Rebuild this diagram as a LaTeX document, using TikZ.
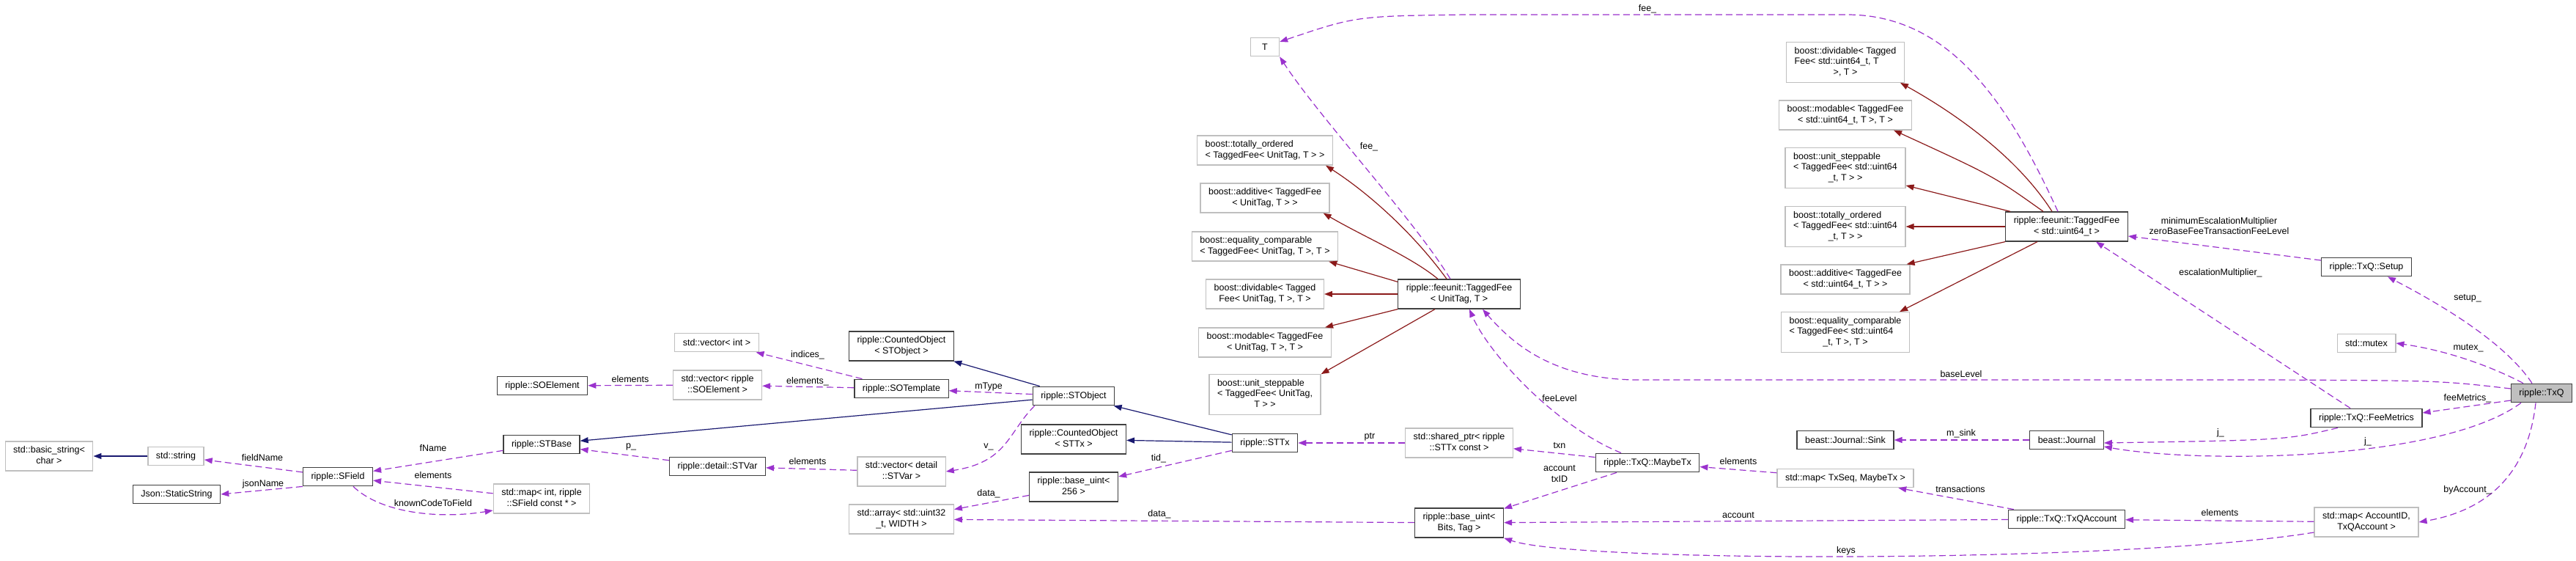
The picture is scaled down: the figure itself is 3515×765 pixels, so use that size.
\documentclass[tikz,border=0pt]{standalone}
\usepackage{fontspec}
\setmainfont{Liberation Sans}
\usepackage{tikz}
\usetikzlibrary{arrows.meta,positioning}

\definecolor{edgepurple}{HTML}{9A32CD}
\definecolor{basenavy}{HTML}{191970}
\definecolor{tplred}{HTML}{8B1A1A}
\definecolor{extgray}{HTML}{BFBFBF}
\definecolor{docgray}{HTML}{404040}

\newcommand{\dxfont}{\fontsize{12.5}{14.5}\selectfont}
\newcommand{\lns}[2]{\begin{tabular}{@{}l@{}}#1\\\multicolumn{1}{@{}c@{}}{#2}\end{tabular}}

\tikzset{
  doc/.style={draw=docgray, line width=1.3pt, fill=white, font=\dxfont, inner xsep=11pt, inner ysep=5.5pt, minimum width=39pt, minimum height=25.5pt},
  ext/.style={doc, draw=extgray},
  lbl/.style={font=\dxfont, inner sep=1pt, align=center},
  member/.style={draw=edgepurple, line width=1.2pt, dash pattern=on 9pt off 5pt, -{Triangle[length=11pt,width=8pt]}},
  pubbase/.style={draw=basenavy, line width=1.2pt, -{Triangle[length=11pt,width=8pt]}},
  tplbase/.style={draw=tplred, line width=1.2pt, -{Triangle[length=11pt,width=8pt]}}
}

\begin{document}
\begin{tikzpicture}[x=1pt, y=-1pt]
  \useasboundingbox (0,0) rectangle (3515,765);

  \node[ext] (bstr) at (67,622) {\lns{std::basic\_string<}{char >}};
  \node[ext] (str) at (240,622) {std::string};
  \node[doc] (jstr) at (241,674) {Json::StaticString};
  \node[doc] (sfield) at (461,650) {ripple::SField};
  \node[doc] (soelem) at (740,526) {ripple::SOElement};
  \node[doc] (stbase) at (739,606) {ripple::STBase};
  \node[ext] (mapfield) at (739,680) {\lns{std::map< int, ripple}{::SField const * >}};
  \node[ext] (vecint) at (978,467) {std::vector< int >};
  \node[ext] (vecsoe) at (979,525) {\lns{std::vector< ripple}{::SOElement >}};
  \node[doc] (stvar) at (979,636) {ripple::detail::STVar};
  \node[doc] (cntobj) at (1230,472) {\lns{ripple::CountedObject}{< STObject >}};
  \node[doc] (sotmpl) at (1230,530) {ripple::SOTemplate};
  \node[ext] (vecvar) at (1230,643) {\lns{std::vector< detail}{::STVar >}};
  \node[ext] (arr) at (1230,708) {\lns{std::array< std::uint32}{\_t, WIDTH >}};
  \node[doc] (stobj) at (1465,540) {ripple::STObject};
  \node[doc] (cnttx) at (1465,599) {\lns{ripple::CountedObject}{< STTx >}};
  \node[doc] (buintk) at (1465,664) {\lns{ripple::base\_uint<}{256 >}};
  \node[ext] (tparam) at (1726,64) {T};
  \node[ext] (btot) at (1726,205) {\lns{boost::totally\_ordered}{< TaggedFee< UnitTag, T > >}};
  \node[ext] (badd) at (1726,270) {\lns{boost::additive< TaggedFee}{< UnitTag, T > >}};
  \node[ext] (beq) at (1726,336) {\lns{boost::equality\_comparable}{< TaggedFee< UnitTag, T >, T >}};
  \node[ext] (bdiv) at (1726,401) {\lns{boost::dividable< Tagged}{Fee< UnitTag, T >, T >}};
  \node[ext] (bmod) at (1726,467) {\lns{boost::modable< TaggedFee}{< UnitTag, T >, T >}};
  \node[ext] (bstep) at (1726,538) {\lns{boost::unit\_steppable\\< TaggedFee< UnitTag,}{T > >}};
  \node[doc] (sttx) at (1726,604) {ripple::STTx};
  \node[doc] (tfee) at (1991,401) {\lns{ripple::feeunit::TaggedFee}{< UnitTag, T >}};
  \node[ext] (sptr) at (1991,604) {\lns{std::shared\_ptr< ripple}{::STTx const >}};
  \node[doc] (buint) at (1991,713) {\lns{ripple::base\_uint<}{Bits, Tag >}};
  \node[doc] (maybetx) at (2248,631) {ripple::TxQ::MaybeTx};
  \node[ext] (udiv) at (2518,85) {\lns{boost::dividable< Tagged\\Fee< std::uint64\_t, T}{>, T >}};
  \node[ext] (umod) at (2518,157) {\lns{boost::modable< TaggedFee}{< std::uint64\_t, T >, T >}};
  \node[ext] (ustep) at (2518,229) {\lns{boost::unit\_steppable\\< TaggedFee< std::uint64}{\_t, T > >}};
  \node[ext] (utot) at (2518,309) {\lns{boost::totally\_ordered\\< TaggedFee< std::uint64}{\_t, T > >}};
  \node[ext] (uadd) at (2518,381) {\lns{boost::additive< TaggedFee}{< std::uint64\_t, T > >}};
  \node[ext] (ueq) at (2518,453) {\lns{boost::equality\_comparable\\< TaggedFee< std::uint64}{\_t, T >, T >}};
  \node[doc] (sink) at (2518,600) {beast::Journal::Sink};
  \node[ext] (mapseq) at (2518,652) {std::map< TxSeq, MaybeTx >};
  \node[doc] (tfeeu) at (2820,309) {\lns{ripple::feeunit::TaggedFee}{< std::uint64\_t >}};
  \node[doc] (journal) at (2820,600) {beast::Journal};
  \node[doc] (txqacc) at (2820,708) {ripple::TxQ::TxQAccount};
  \node[doc] (setup) at (3229,364) {ripple::TxQ::Setup};
  \node[ext] (mutex) at (3229,468) {std::mutex};
  \node[doc] (feemet) at (3229,570) {ripple::TxQ::FeeMetrics};
  \node[ext] (mapacc) at (3229,712) {\lns{std::map< AccountID,}{TxQAccount >}};
  \node[doc, fill=extgray] (txq) at (3468,536) {ripple::TxQ};

  \draw[pubbase] (str) -- (bstr);
  \draw[pubbase] (stobj) -- (stbase);
  \draw[pubbase] (stobj) -- (cntobj);
  \draw[pubbase] (sttx) -- (stobj);
  \draw[pubbase] (sttx) -- (cnttx);

  \draw[tplbase] ([xshift=-17pt]tfee.north) .. controls (1930,320) and (1870,265) .. ([xshift=-10pt]btot.south east);
  \draw[tplbase] ([xshift=-29pt]tfee.north) .. controls (1925,350) and (1865,325) .. ([xshift=-9pt]badd.south east);
  \draw[tplbase] ([yshift=-4pt]tfee.north west) -- ([xshift=-13pt]beq.south east);
  \draw[tplbase] (tfee.west) -- (bdiv.east);
  \draw[tplbase] (tfee.south west) -- ([xshift=-9pt]bmod.north east);
  \draw[tplbase] ([xshift=-33pt]tfee.south) -- (bstep.north east);
  \draw[tplbase] ([xshift=-20pt]tfeeu.north) .. controls (2750,210) and (2660,150) .. ([xshift=-6pt]udiv.south east);
  \draw[tplbase] ([xshift=-32pt]tfeeu.north) .. controls (2720,240) .. ([xshift=-25pt]umod.south east);
  \draw[tplbase] ([xshift=7pt]tfeeu.north west) -- ([yshift=4pt]ustep.south east);
  \draw[tplbase] (tfeeu.west) -- (utot.east);
  \draw[tplbase] (tfeeu.south west) -- ([xshift=-5pt]uadd.north east);
  \draw[tplbase] ([xshift=-40pt]tfeeu.south) -- ([xshift=-14pt]ueq.north east);

  \draw[member] (sfield) -- (str);
  \draw[member] (sfield.south west) -- (jstr.east);
  \draw[member] (stbase) -- (sfield);
  \draw[member] (mapfield) -- (sfield);
  \draw[member] ([xshift=21pt]sfield.south) .. controls (520,700) and (600,708) .. ([yshift=-16pt]mapfield.west);
  \draw[member] (vecsoe) -- (soelem);
  \draw[member] (sotmpl) -- (vecsoe);
  \draw[member] (sotmpl) -- (vecint);
  \draw[member] (vecvar) -- (stvar);
  \draw[member] (stvar) -- (stbase);
  \draw[member] (stobj) -- (sotmpl);
  \draw[member] ([xshift=3pt]stobj.south west) .. controls (1375,590) and (1375,630) .. (vecvar.east);
  \draw[member] (sttx) -- (buintk);
  \draw[member] (buintk) -- (arr);
  \draw[member] (buint) -- (arr);
  \draw[member] (sptr) -- (sttx);
  \draw[member] (maybetx) -- (sptr);
  \draw[member] (maybetx) -- (buint);
  \draw[member] (mapseq) -- (maybetx);
  \draw[member] (txqacc) -- (mapseq);
  \draw[member] (txqacc) -- (buint);
  \draw[member] (journal) -- (sink);
  \draw[member] (mapacc) -- (txqacc);
  \draw[member] ([yshift=-14pt]mapacc.west) .. controls (2900,768) and (2150,768) .. (buint.south east);
  \draw[member] ([xshift=-8pt]txq.south) .. controls (3450,640) and (3400,695) .. (mapacc.east);
  \draw[member] ([xshift=-13pt]txq.north) .. controls (3420,470) and (3340,420) .. ([xshift=29pt]setup.south);
  \draw[member] ([xshift=-25pt]txq.north) .. controls (3400,500) and (3340,478) .. (mutex.east);
  \draw[member] ([yshift=-10pt]txq.west) -- ([yshift=7pt]feemet.east);
  \draw[member] ([yshift=6pt]txq.west) .. controls (3330,519) .. (3100,518) -- (2230,518) .. controls (2120,516) and (2065,470) .. ([xshift=32pt]tfee.south);
  \draw[member] ([xshift=-36pt]maybetx.north) .. controls (2120,580) and (2030,480) .. ([xshift=14pt]tfee.south);
  \draw[member] ([xshift=-12pt]tfee.north) .. controls (1930,300) and (1800,160) .. (tparam.south east);
  \draw[member] ([xshift=-12pt]tfeeu.north) .. controls (2740,140) and (2660,20) .. (2520,20) -- (2000,20) .. controls (1850,22) .. ([yshift=7pt]tparam.east);
  \draw[member] ([yshift=9pt]setup.west) -- ([yshift=-13pt]tfeeu.east);
  \draw[member] ([xshift=-22pt]feemet.north) -- ([xshift=40pt]tfeeu.south);
  \draw[member] ([xshift=-39pt]feemet.south) .. controls (3120,600) .. ([yshift=-4pt]journal.east);
  \draw[member] ([xshift=-28pt]txq.south) .. controls (3330,630) and (3000,632) .. ([yshift=-9pt]journal.east);

  \node[lbl] (lfieldname) at (358,624) {fieldName};
  \node[lbl] (ljsonname) at (359,660) {jsonName};
  \node[lbl] (lfname) at (591,611) {fName};
  \node[lbl] (lfieldelems) at (591,648) {elements};
  \node[lbl] (lknown) at (591,686) {knownCodeToField};
  \node[lbl] (lsoelems) at (860,517) {elements};
  \node[lbl] (lindices) at (1102,484) {indices\_};
  \node[lbl] (ltmplelems) at (1102,520) {elements\_};
  \node[lbl] (lp) at (861,609) {p\_};
  \node[lbl] (lvarelems) at (1102,629) {elements};
  \node[lbl] (lmtype) at (1349,527) {mType};
  \node[lbl] (lv) at (1349,609) {v\_};
  \node[lbl] (ldatak) at (1349,673) {data\_};
  \node[lbl] (ltid) at (1581,625) {tid\_};
  \node[lbl] (ldata) at (1582,701) {data\_};
  \node[lbl] (lptr) at (1869,596) {ptr};
  \node[lbl] (lfee) at (1868,200) {fee\_};
  \node[lbl] (lfeeu) at (2248,12) {fee\_};
  \node[lbl] (lfeelevel) at (2128,543) {feeLevel};
  \node[lbl] (ltxn) at (2128,608) {txn};
  \node[lbl] (lacctxid) at (2128,646) {account\\txID};
  \node[lbl] (lseqelems) at (2372,629) {elements};
  \node[lbl] (laccount) at (2372,703) {account};
  \node[lbl] (lkeys) at (2519,751) {keys};
  \node[lbl] (lbaselevel) at (2676,510) {baseLevel};
  \node[lbl] (lmsink) at (2676,591) {m\_sink};
  \node[lbl] (ltransactions) at (2675,667) {transactions};
  \node[lbl] (lminesc) at (3028,308) {minimumEscalationMultiplier\\zeroBaseFeeTransactionFeeLevel};
  \node[lbl] (lesc) at (3030,372) {escalationMultiplier\_};
  \node[lbl] (ljmet) at (3030,590) {j\_};
  \node[lbl] (laccelems) at (3029,699) {elements};
  \node[lbl] (lsetup) at (3367,407) {setup\_};
  \node[lbl] (lmutex) at (3368,475) {mutex\_};
  \node[lbl] (lfeemet) at (3367,543) {feeMetrics\_};
  \node[lbl] (ljtxq) at (3231,602) {j\_};
  \node[lbl] (lbyacc) at (3367,668) {byAccount\_};
\end{tikzpicture}
\end{document}
